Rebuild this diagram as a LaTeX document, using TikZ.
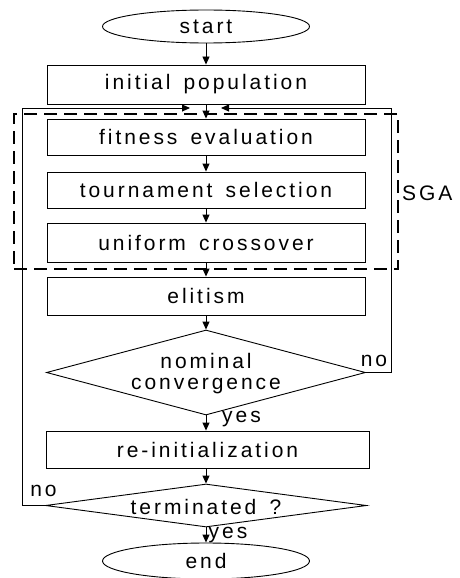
\documentclass[tikz,border=0pt]{standalone}
\usepackage{fontspec}
\setmainfont{Liberation Sans}[LetterSpace=14,WordSpace=1.5]
\usetikzlibrary{shapes.geometric,arrows.meta}
\begin{document}
\begin{tikzpicture}[x=1pt,y=-1pt,
  txt/.style={font=\fontsize{21}{24}\selectfont, inner sep=0pt},
  stepbox/.style={draw, line width=0.9pt, minimum width=318pt, minimum height=37pt, inner sep=0pt, txt},
  term/.style={draw, ellipse, line width=0.9pt, minimum width=207pt, minimum height=33pt, inner sep=0pt, txt},
  dia/.style={draw, diamond, line width=0.9pt, inner sep=0pt},
  arr/.style={-{Triangle[length=8pt,width=7pt]}, line width=0.9pt},
  sgabox/.style={draw, line width=2.2pt, dash pattern=on 13pt off 7pt, minimum width=384pt, minimum height=155pt, inner sep=0pt}
]
\useasboundingbox (0,0) rectangle (460,578);
\node[term] (start) at (206,26.5) {start};
\node[stepbox, minimum height=39pt] (init) at (206,84.5) {initial population};
\node[stepbox, minimum height=36pt] (fit) at (206,137) {fitness evaluation};
\node[stepbox, minimum height=36pt] (tour) at (206,190) {tournament selection};
\node[stepbox, minimum height=39pt] (uni) at (206,242.5) {uniform crossover};
\node[stepbox, minimum height=38pt] (eli) at (206,296) {elitism};
\node[dia, minimum width=319pt, minimum height=85pt] (nom) at (206,372.5) {};
\node[txt] (nomA) at (206,361) {nominal};
\node[txt] (nomB) at (206,386) {convergence};
\node[stepbox, minimum width=323pt, minimum height=37pt] (re) at (207.5,449.5) {re-initialization};
\node[dia, minimum width=321pt, minimum height=43pt] (term) at (206,505.5) {};
\node[txt] (termT) at (206,507) {terminated ?};
\node[term, minimum height=36pt] (end) at (206,561) {end};
\node[sgabox] (sga) at (206,191.5) {};
\node[txt, anchor=west] (sgalab) at (402,193) {SGA};
\node[txt] (no1) at (374,361) {no};
\node[txt] (yes1) at (241.5,419) {yes};
\node[txt] (no2) at (43.5,491) {no};
\node[txt] (yes2) at (228,535) {yes};
\coordinate (lc) at (22,108);
\coordinate (ltip) at (190,108);
\coordinate (rc) at (391,108);
\coordinate (rtip) at (221,108);
\draw[arr] (start.south) -- (init.north);
\draw[arr] (init.south) -- (fit.north);
\draw[arr] (fit.south) -- (tour.north);
\draw[arr] (tour.south) -- (uni.north);
\draw[arr] (uni.south) -- (eli.north);
\draw[arr] (eli.south) -- (nom.north);
\draw[arr] (nom.south) -- (nom.south |- re.north);
\draw[arr] (nom.south |- re.south) -- (term.north);
\draw[arr] (term.south) -- (end.north);
\draw[arr] (term.west) -| (lc) -- (ltip);
\draw[arr] (nom.east) -| (rc) -- (rtip);
\end{tikzpicture}
\end{document}
